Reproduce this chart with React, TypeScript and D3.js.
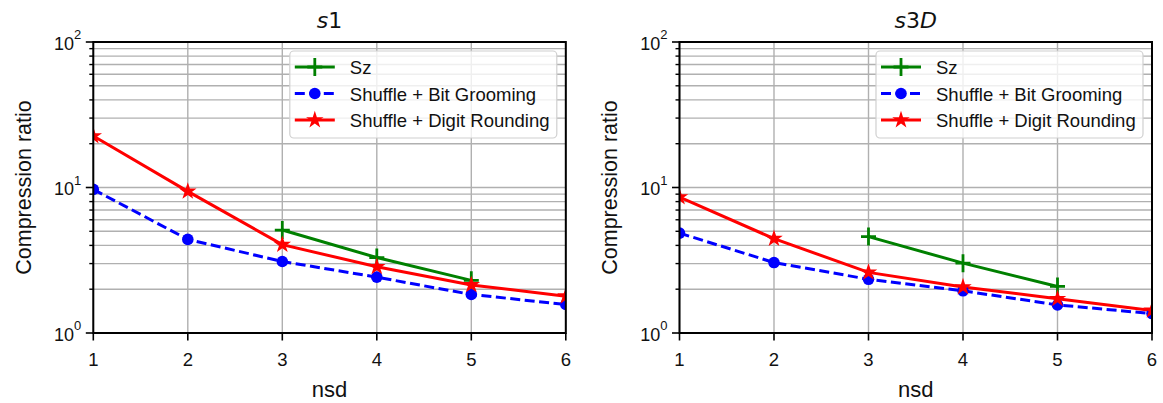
import * as d3 from 'd3';
import React from 'react';

// nsd values on the x axis
const nsd = [1, 2, 3, 4, 5, 6];
const szNsd = [3, 4, 5];
const xTicks = [1, 2, 3, 4, 5, 6];
const yMajor = [1, 10, 100];
const yMinor = [2, 3, 4, 5, 6, 7, 8, 9, 20, 30, 40, 50, 60, 70, 80, 90];
const legendLabels = ['Sz', 'Shuffle + Bit Grooming', 'Shuffle + Digit Rounding'];

// s1 panel
const s1Sz = [5.1, 3.3, 2.3];
const s1BitGrooming = [9.7, 4.4, 3.1, 2.42, 1.84, 1.57];
const s1DigitRounding = [22.6, 9.4, 4.05, 2.85, 2.14, 1.79];

// s3D panel
const s3dSz = [4.6, 3.02, 2.09];
const s3dBitGrooming = [4.86, 3.05, 2.34, 1.95, 1.56, 1.36];
const s3dDigitRounding = [8.6, 4.45, 2.61, 2.07, 1.72, 1.43];

const GREEN = '#008000';
const BLUE = '#0000ff';
const RED = '#ff0000';
const GRID = '#b0b0b0';
const INK = '#111';
const FONT = '"Liberation Sans", Arial, sans-serif';

const top = 42;
const bottom = 333;
const plotW = 472.5;

const starPath = d3.symbol(d3.symbolStar, 95)() as string;

function Plus({ x, y, color }) {
  return (
    <path d={`M${x - 7.5},${y}H${x + 7.5}M${x},${y - 9}V${y + 9}`} stroke={color} strokeWidth={2.8} fill="none" />
  );
}

function Panel({ left, id, title, sz, bg, dr, labelX }) {
  const x = d3.scaleLinear().domain([1, 6]).range([left, left + plotW]);
  const y = d3.scaleLog().domain([1, 100]).range([bottom, top]);
  const line = d3.line<number[]>().x(d => x(d[0])).y(d => y(d[1]));
  const szPts = szNsd.map((n, i) => [n, sz[i]]);
  const bgPts = nsd.map((n, i) => [n, bg[i]]);
  const drPts = nsd.map((n, i) => [n, dr[i]]);
  const right = left + plotW;
  const lgX = right - 276;
  const lgY = 51;
  const rows = [67, 93.5, 120];

  return (
    <g>
      <defs>
        <clipPath id={id}>
          <rect x={left} y={top} width={plotW} height={bottom - top} />
        </clipPath>
      </defs>
      {/* grid */}
      {yMinor.concat(yMajor).map(v => (
        <line key={'h' + v} x1={left} x2={right} y1={y(v)} y2={y(v)} stroke={GRID} strokeWidth={1.4} />
      ))}
      {xTicks.map(v => (
        <line key={'v' + v} x1={x(v)} x2={x(v)} y1={top} y2={bottom} stroke={GRID} strokeWidth={1.4} />
      ))}
      <g clipPath={`url(#${id})`}>
        <path d={line(szPts) as string} stroke={GREEN} strokeWidth={3} fill="none" />
        <path d={line(bgPts) as string} stroke={BLUE} strokeWidth={3} fill="none" strokeDasharray="10,4.5" />
        <path d={line(drPts) as string} stroke={RED} strokeWidth={3} fill="none" />
        {szPts.map((p, i) => <Plus key={'p' + i} x={x(p[0])} y={y(p[1])} color={GREEN} />)}
        {bgPts.map((p, i) => <circle key={'c' + i} cx={x(p[0])} cy={y(p[1])} r={5.8} fill={BLUE} />)}
        {drPts.map((p, i) => (
          <path key={'s' + i} d={starPath} transform={`translate(${x(p[0])},${y(p[1])})`} fill={RED} />
        ))}
      </g>
      {/* frame */}
      <rect x={left} y={top} width={plotW} height={bottom - top} fill="none" stroke="#000" strokeWidth={2} />
      {/* y ticks */}
      {yMinor.map(v => (
        <line key={'mt' + v} x1={left - 4} x2={left} y1={y(v)} y2={y(v)} stroke="#000" strokeWidth={1.4} />
      ))}
      {yMajor.map((v, i) => (
        <g key={'Mt' + v}>
          <line x1={left - 7.5} x2={left} y1={y(v)} y2={y(v)} stroke="#000" strokeWidth={1.6} />
          <text x={left - 12} y={y(v) + 7.5} textAnchor="end" fontFamily={FONT} fontSize={18} fill={INK}>
            10<tspan fontSize={13} dy={-10.5}>{i}</tspan>
          </text>
        </g>
      ))}
      {/* x ticks */}
      {xTicks.map(v => (
        <g key={'xt' + v}>
          <line x1={x(v)} x2={x(v)} y1={bottom} y2={bottom + 7.5} stroke="#000" strokeWidth={1.6} />
          <text x={x(v)} y={bottom + 33} textAnchor="middle" fontFamily={FONT} fontSize={18.5} fill={INK}>{v}</text>
        </g>
      ))}
      <text x={left + plotW / 2} y={397} textAnchor="middle" fontFamily={FONT} fontSize={22} fill={INK}>nsd</text>
      <text transform={`translate(${labelX},${(top + bottom) / 2}) rotate(-90)`} textAnchor="middle" fontFamily={FONT} fontSize={21.5} fill={INK}>
        Compression ratio
      </text>
      <text x={left + plotW / 2} y={28} textAnchor="middle" fontFamily='"DejaVu Sans", sans-serif' fontSize={22} fill={INK}>
        {title}
      </text>
      {/* legend */}
      <rect x={lgX} y={lgY} width={267} height={87} rx={4} fill="#fff" fillOpacity={0.8} stroke="#d0d0d0" strokeWidth={1.2} />
      <line x1={lgX + 5} x2={lgX + 45} y1={rows[0]} y2={rows[0]} stroke={GREEN} strokeWidth={3} />
      <Plus x={lgX + 25} y={rows[0]} color={GREEN} />
      <line x1={lgX + 5} x2={lgX + 45} y1={rows[1]} y2={rows[1]} stroke={BLUE} strokeWidth={3} strokeDasharray="10,4.5" />
      <circle cx={lgX + 25} cy={rows[1]} r={5.8} fill={BLUE} />
      <line x1={lgX + 5} x2={lgX + 45} y1={rows[2]} y2={rows[2]} stroke={RED} strokeWidth={3} />
      <path d={starPath} transform={`translate(${lgX + 25},${rows[2]})`} fill={RED} />
      {legendLabels.map((t, i) => (
        <text key={t} x={lgX + 60} y={rows[i] + 7} fontFamily={FONT} fontSize={18.5} fill={INK}>{t}</text>
      ))}
    </g>
  );
}

export default function App() {
  return (
    <svg width={1163} height={403} style={{ position: 'absolute', left: 0, top: 0, background: '#fff' }}>
      <Panel
        left={93.3}
        id="clipS1"
        labelX={31}
        title={<><tspan fontStyle="italic">s</tspan>1</>}
        sz={s1Sz}
        bg={s1BitGrooming}
        dr={s1DigitRounding}
      />
      <Panel
        left={679.5}
        id="clipS3D"
        labelX={617}
        title={<><tspan fontStyle="italic">s</tspan>3<tspan fontStyle="italic">D</tspan></>}
        sz={s3dSz}
        bg={s3dBitGrooming}
        dr={s3dDigitRounding}
      />
    </svg>
  );
}
